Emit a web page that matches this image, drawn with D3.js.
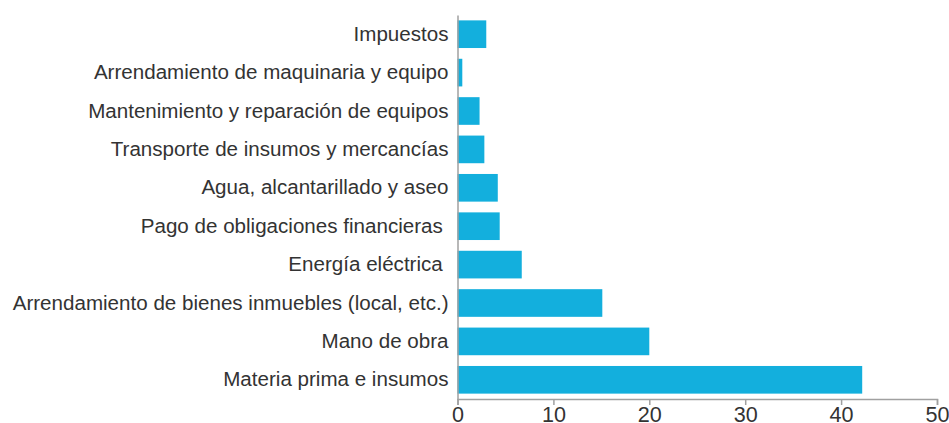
<!DOCTYPE html>
<html>
<head>
<meta charset="utf-8">
<script src="https://cdn.jsdelivr.net/npm/d3@7"></script>
<style>
  body { margin: 0; background: #fff; }
  svg { display: block; font-family: "Open Sans", sans-serif; }
</style>
</head>
<body>
<svg id="chart" width="949" height="423"></svg>
<script>
const categories = [
    "Impuestos",
    "Arrendamiento de maquinaria y equipo",
    "Mantenimiento y reparación de equipos",
    "Transporte de insumos y mercancías",
    "Agua, alcantarillado y aseo",
    "Pago de obligaciones financieras ",
    "Energía eléctrica ",
    "Arrendamiento de bienes inmuebles (local, etc.)",
    "Mano de obra",
    "Materia prima e insumos"
];
const values = [3.0, 0.5, 2.3, 2.8, 4.2, 4.4, 6.7, 15.1, 20.0, 42.2];
const xTicks = [0, 10, 20, 30, 40, 50];

const svg = d3.select("#chart");
const margin = { top: 15, right: 12, bottom: 24, left: 457.5 };
const width = +svg.attr("width");
const height = +svg.attr("height");
const innerWidth = width - margin.left - margin.right;
const innerHeight = height - margin.top - margin.bottom;

const data = categories.map((c, i) => ({ category: c, value: values[i] }));

const x = d3.scaleLinear().domain([0, 50]).range([0, innerWidth]);
const y = d3.scaleBand().domain(categories).range([0, innerHeight])
    .paddingInner(0.28).paddingOuter(0.14);

const g = svg.append("g").attr("transform", `translate(${margin.left},${margin.top})`);

g.selectAll("rect")
    .data(data)
    .enter().append("rect")
    .attr("x", 0)
    .attr("y", d => y(d.category))
    .attr("width", d => x(d.value))
    .attr("height", y.bandwidth())
    .attr("fill", "#13afdd");

const xAxis = g.append("g")
    .attr("transform", `translate(0,${innerHeight})`)
    .call(d3.axisBottom(x).tickValues(xTicks).tickSize(6).tickPadding(2).tickFormat(d3.format("d")));
xAxis.select(".domain").attr("stroke", "#a0a0a0").attr("stroke-width", 1.5);
xAxis.selectAll(".tick line").attr("stroke", "#a0a0a0").attr("stroke-width", 1.5);

const yAxis = g.append("g")
    .call(d3.axisLeft(y).tickSize(0).tickPadding(9));
yAxis.select(".domain").attr("stroke", "#a0a0a0").attr("stroke-width", 1.5);
const yLabels = yAxis.selectAll("text")
    .attr("font-size", "18px")
    .attr("fill", "#333")
    .style("white-space", "pre");

// fit the longest label to the width it takes in the reference
const longest = d3.max(yLabels.nodes(), n => n.getComputedTextLength());
const fs = 18 * 436 / longest;
yLabels.attr("font-size", fs + "px");

xAxis.selectAll("text")
    .attr("font-size", (fs + 1) + "px")
    .attr("fill", "#333");
</script>
</body>
</html>
